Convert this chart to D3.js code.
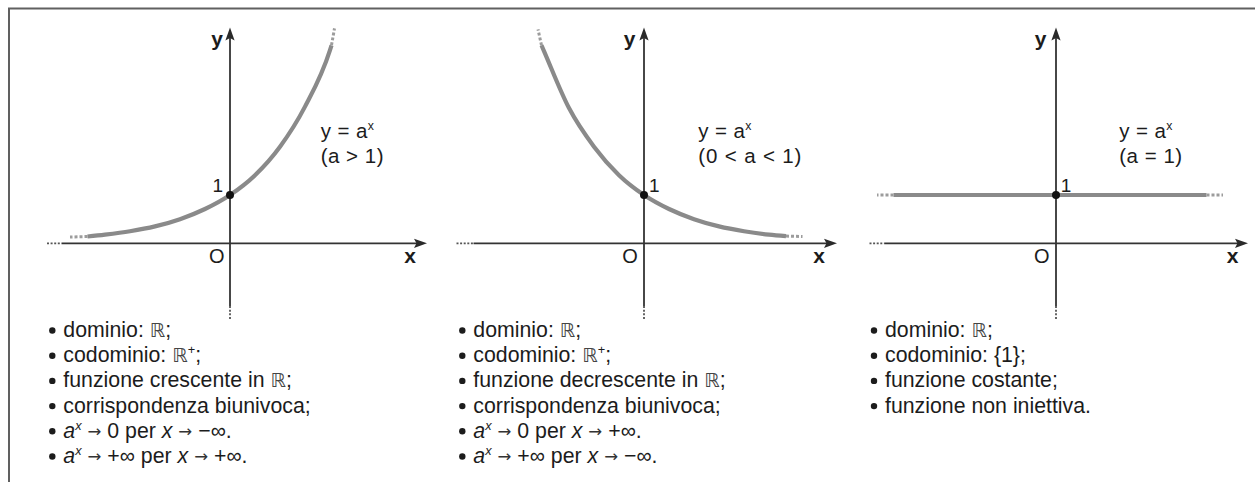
<!DOCTYPE html>
<html>
<head>
<meta charset="utf-8">
<script src="https://cdn.jsdelivr.net/npm/d3@7"></script>
<style>
  body { margin: 0; background: #fff; }
  svg { display: block; }
  text { font-family: "Liberation Sans", Arial, Helvetica, sans-serif; fill: #1c1c1c; white-space: pre; }
</style>
</head>
<body>
<svg id="chart" width="1255" height="482"></svg>
<script>
// ---- data: y = a^x for a > 1, 0 < a < 1, a = 1 ----
const curveX1 = [-2.85, -2.5, -2, -1.5, -1, -0.5, 0, 0.5, 1, 1.5, 2, 2.03];
const curveY1 = [0.14, 0.18, 0.25, 0.35, 0.5, 0.71, 1, 1.41, 2, 2.83, 4, 4.1];
const curveX2 = [-2.05, -2, -1.5, -1, -0.5, 0, 0.5, 1, 1.5, 2, 2.5, 2.84];
const curveY2 = [4.1, 3.98, 2.8, 2, 1.41, 1, 0.71, 0.5, 0.35, 0.25, 0.18, 0.15];
const curveX3 = [-3.25, 3.01];
const curveY3 = [1, 1];

// dotted continuations at the ends of each graph: [x0, y0, x1, y1]
const tails1 = [[-2.85, 0.14, -3.2, 0.13], [2.03, 4.1, 2.09, 4.45]];
const tails2 = [[-2.05, 4.1, -2.12, 4.43], [2.84, 0.15, 3.17, 0.14]];
const tails3 = [[-3.25, 1, -3.58, 1], [3.01, 1, 3.34, 1]];

// marked point (0, 1)
const markX = [0, 0, 0];
const markY = [1, 1, 1];

// formula labels
const formulaTop = ["y = a{s:x}", "y = a{s:x}", "y = a{s:x}"];
const formulaBottom = ["(a > 1)", "(0 < a < 1)", "(a = 1)"];

// property lists
const notes1 = [
  "dominio: ℝ;",
  "codominio: ℝ{s:+};",
  "funzione crescente in ℝ;",
  "corrispondenza biunivoca;",
  "{i:a}{si:x} → 0 per {i:x} → −∞.",
  "{i:a}{si:x} → +∞ per {i:x} → +∞."
];
const notes2 = [
  "dominio: ℝ;",
  "codominio: ℝ{s:+};",
  "funzione decrescente in ℝ;",
  "corrispondenza biunivoca;",
  "{i:a}{si:x} → 0 per {i:x} → +∞.",
  "{i:a}{si:x} → +∞ per {i:x} → −∞."
];
const notes3 = [
  "dominio: ℝ;",
  "codominio: {1};",
  "funzione costante;",
  "funzione non iniettiva."
];

// ---- layout ----
const W = 1255, H = 482;
const UNIT_X = 50;
const Y0 = 243.3, Y1 = 195;
const NOTE_SIZE = 21.3;
const LABEL_SIZE = 20.5;

const panels = [
  { ox: 230, xs: curveX1, ys: curveY1, tails: tails1, notes: notes1,
    axisFrom: -3.36, dotsFrom: -3.66, axisTo: 3.94,
    yLab: -13, oLab: -13.3, xLab: -17, oneDx: -7, oneAnchor: "end",
    formulaDx: 90.7, formulaSpacing: 0.5, noteX: 63.3 },
  { ox: 644, xs: curveX2, ys: curveY2, tails: tails2, notes: notes2,
    axisFrom: -3.41, dotsFrom: -3.75, axisTo: 3.86,
    yLab: -14.5, oLab: -14, xLab: -18, oneDx: 5, oneAnchor: "start",
    formulaDx: 54.3, formulaSpacing: 0.85, noteX: 473.3 },
  { ox: 1056, xs: curveX3, ys: curveY3, tails: tails3, notes: notes3,
    axisFrom: -3.42, dotsFrom: -3.73, axisTo: 3.84,
    yLab: -15.5, oLab: -14.3, xLab: -15.5, oneDx: 4.7, oneAnchor: "start",
    formulaDx: 63.3, formulaSpacing: 0.5, noteX: 885 }
];

const yAxisTop = 4.47, yAxisBottom = -1.3, yDotsBottom = -1.57;

const svg = d3.select("#chart");

// outer frame (left and top edges)
svg.append("path")
  .attr("d", `M9,${H} V8.5 H${W}`)
  .attr("fill", "none")
  .attr("stroke", "#606060")
  .attr("stroke-width", 2);

const y = d3.scaleLinear().domain([0, 1]).range([Y0, Y1]);

// rich text writer: {i:..} italic, {s:..} superscript, {si:..} italic superscript,
// ℝ double-struck, → arrow
function writeRich(textSel, str, size) {
  const re = /\{(i|s|si):([^}]*)\}|ℝ|→/g;
  let last = 0, shift = 0, m;
  const pieces = [];
  while ((m = re.exec(str)) !== null) {
    if (m.index > last) pieces.push({ t: str.slice(last, m.index), k: "n" });
    if (m[1]) pieces.push({ t: m[2], k: m[1] });
    else if (m[0] === "ℝ") pieces.push({ t: "ℝ", k: "R" });
    else pieces.push({ t: "→", k: "arr" });
    last = re.lastIndex;
  }
  if (last < str.length) pieces.push({ t: str.slice(last), k: "n" });

  pieces.forEach(p => {
    const ts = textSel.append("tspan").text(p.t);
    let target = 0;
    if (p.k === "s" || p.k === "si") {
      target = -size * 0.38;
      ts.attr("font-size", size * 0.6);
      if (p.k === "si") ts.attr("font-style", "italic");
    } else if (p.k === "i") {
      ts.attr("font-style", "italic");
    } else if (p.k === "R") {
      ts.attr("font-family", "DejaVu Sans").attr("font-size", size * 0.92)
        .style("fill", "#444");
    } else if (p.k === "arr") {
      ts.attr("font-family", "DejaVu Sans").attr("font-size", size * 0.78)
        .style("fill", "#333");
      target = -size * 0.05;
    }
    if (target !== shift) { ts.attr("dy", target - shift); shift = target; }
  });
}

panels.forEach(p => {
  const x = d3.scaleLinear().domain([0, 1]).range([p.ox, p.ox + UNIT_X]);
  const g = svg.append("g");

  // x axis: dotted lead-in, solid line, arrowhead
  g.append("line")
    .attr("x1", x(p.dotsFrom)).attr("x2", x(p.axisFrom))
    .attr("y1", y(0)).attr("y2", y(0))
    .attr("stroke", "#555").attr("stroke-width", 1.8)
    .attr("stroke-dasharray", "2,1.6");
  g.append("line")
    .attr("x1", x(p.axisFrom)).attr("x2", x(p.axisTo) - 6)
    .attr("y1", y(0)).attr("y2", y(0))
    .attr("stroke", "#333").attr("stroke-width", 1.8);
  g.append("path")
    .attr("transform", `translate(${x(p.axisTo)},${y(0)})`)
    .attr("d", "M0,0 L-13,-4.6 L-10.5,0 L-13,4.6 Z")
    .attr("fill", "#2a2a2a");

  // y axis
  g.append("line")
    .attr("x1", x(0)).attr("x2", x(0))
    .attr("y1", y(yAxisBottom)).attr("y2", y(yDotsBottom))
    .attr("stroke", "#555").attr("stroke-width", 1.8)
    .attr("stroke-dasharray", "2,1.6");
  g.append("line")
    .attr("x1", x(0)).attr("x2", x(0))
    .attr("y1", y(yAxisBottom)).attr("y2", y(yAxisTop) + 6)
    .attr("stroke", "#333").attr("stroke-width", 1.8);
  g.append("path")
    .attr("transform", `translate(${x(0)},${y(yAxisTop)}) rotate(-90)`)
    .attr("d", "M0,0 L-13,-4.6 L-10.5,0 L-13,4.6 Z")
    .attr("fill", "#2a2a2a");

  // graph of the function
  const pts = p.xs.map((v, i) => [v, p.ys[i]]);
  const line = d3.line().x(d => x(d[0])).y(d => y(d[1])).curve(d3.curveMonotoneX);
  g.append("path")
    .attr("d", line(pts))
    .attr("fill", "none")
    .attr("stroke", "#8a8a8a")
    .attr("stroke-width", 4.2)
    .attr("stroke-linecap", "butt");

  // dotted continuations
  p.tails.forEach(t => {
    g.append("line")
      .attr("x1", x(t[0])).attr("y1", y(t[1]))
      .attr("x2", x(t[2])).attr("y2", y(t[3]))
      .attr("stroke", "#9c9c9c").attr("stroke-width", 3)
      .attr("stroke-dasharray", "3,2");
  });

  // axis labels
  g.append("text").attr("x", x(0) + p.yLab).attr("y", 46)
    .attr("text-anchor", "middle").attr("font-size", 21).attr("font-weight", "bold").text("y");
  g.append("text").attr("x", x(0) + p.oLab).attr("y", 263)
    .attr("text-anchor", "middle").attr("font-size", 20).text("O");
  g.append("text").attr("x", x(p.axisTo) + p.xLab).attr("y", 263)
    .attr("text-anchor", "middle").attr("font-size", 21).attr("font-weight", "bold").text("x");
  g.append("text").attr("x", x(0) + p.oneDx).attr("y", 192)
    .attr("text-anchor", p.oneAnchor).attr("font-size", 19).text("1");
});

// marked points, formulas and property lists
panels.forEach((p, i) => {
  const x = d3.scaleLinear().domain([0, 1]).range([p.ox, p.ox + UNIT_X]);
  svg.append("circle")
    .attr("cx", x(markX[i])).attr("cy", y(markY[i])).attr("r", 4)
    .attr("fill", "#111");

  const f1 = svg.append("text").attr("x", p.ox + p.formulaDx).attr("y", 138)
    .attr("font-size", LABEL_SIZE).attr("letter-spacing", 0.4);
  writeRich(f1, formulaTop[i], LABEL_SIZE);
  const f2 = svg.append("text").attr("x", p.ox + p.formulaDx).attr("y", 163)
    .attr("font-size", LABEL_SIZE).attr("letter-spacing", p.formulaSpacing);
  writeRich(f2, formulaBottom[i], LABEL_SIZE);

  p.notes.forEach((n, j) => {
    const by = 337 + j * 25.2;
    svg.append("circle").attr("cx", p.noteX - 11).attr("cy", by - 6.5).attr("r", 3.2).attr("fill", "#1c1c1c");
    const t = svg.append("text").attr("x", p.noteX).attr("y", by).attr("font-size", NOTE_SIZE);
    writeRich(t, n, NOTE_SIZE);
  });
});
</script>
</body>
</html>
